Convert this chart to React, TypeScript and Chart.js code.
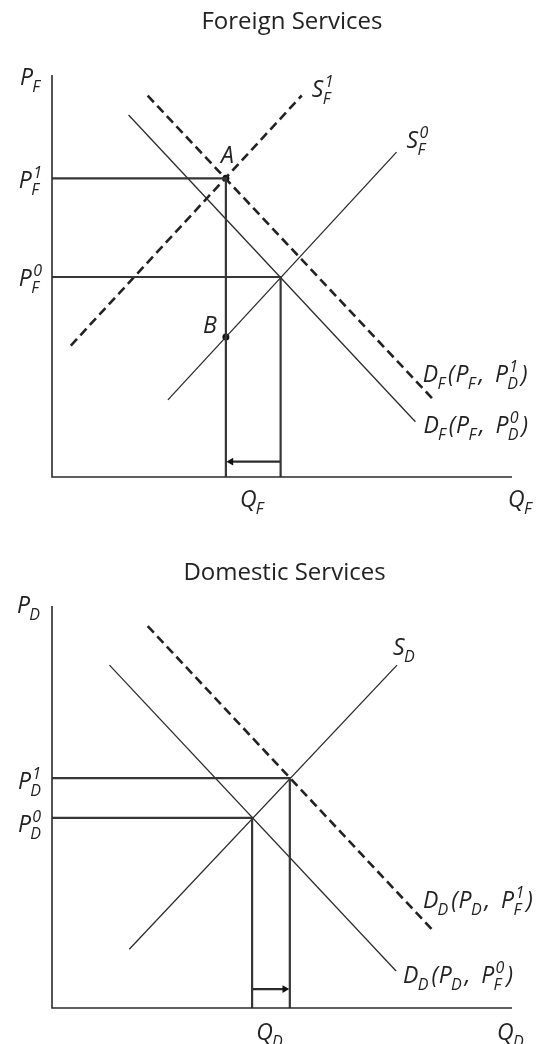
import React, { useEffect, useRef } from 'react';
import { Chart, registerables } from 'chart.js';
Chart.register(...registerables);

// ---------- Foreign services (top panel); both axes run 0..100 ----------
const foreignPrices = [74.3, 49.75]; // P_F^1 , P_F^0
const foreignQuantities = [37.8, 49.7]; // quantity at A (new), quantity at old equilibrium
const foreignPriceB = 34.8; // point B on S_F^0
const foreignS1 = [[4.1, 32.7], [54.3, 94.9]];
const foreignS0 = [[25.2, 19.2], [74.9, 80.8]];
const foreignD0 = [[16.65, 90.05], [79.0, 13.76]];
const foreignD1 = [[20.8, 94.85], [83.0, 19.15]];
const foreignArrowLevel = 3.8;

// ---------- Domestic services (bottom panel) ----------
const domesticPrices = [57.2, 47.3]; // P_D^1 , P_D^0
const domesticQuantities = [51.7, 43.5]; // new, old
const domesticS = [[16.8, 14.6], [75.0, 85.3]];
const domesticD0 = [[12.5, 85.3], [74.8, 9.2]];
const domesticD1 = [[20.8, 95.0], [82.8, 19.3]];
const domesticArrowLevel = 4.7;

const INK = '#222222';
const FONT = '"Open Sans", "Noto Sans", sans-serif';
const W = 541;
const H = 522;

type Tok = { t: string; sub?: string; sup?: string };
function parseMath(s: string): Tok[] {
  const out: Tok[] = [];
  for (let i = 0; i < s.length; i++) {
    const c = s[i];
    if (c === '_') out[out.length - 1].sub = s[++i];
    else if (c === '^') out[out.length - 1].sup = s[++i];
    else out.push({ t: c });
  }
  return out;
}
const MAIN = `italic 23px ${FONT}`;
const SMALL = `italic 16px ${FONT}`;
function tokWidth(ctx: CanvasRenderingContext2D, k: Tok) {
  ctx.font = MAIN;
  let w = k.t === ' ' ? 10 : ctx.measureText(k.t).width + 0.8;
  ctx.font = SMALL;
  const sw = Math.max(k.sub ? ctx.measureText(k.sub).width : 0, k.sup ? ctx.measureText(k.sup).width + 1 : 0);
  if (sw > 0) w += sw + 1.5;
  return w;
}
function drawMath(ctx: CanvasRenderingContext2D, s: string, x: number, y: number, align: 'left' | 'right' | 'center' = 'left') {
  const toks = parseMath(s);
  const w = toks.reduce((a, k) => a + tokWidth(ctx, k), 0);
  let cx = align === 'left' ? x : align === 'right' ? x - w : x - w / 2;
  ctx.save();
  ctx.fillStyle = INK;
  ctx.textAlign = 'left';
  ctx.textBaseline = 'alphabetic';
  for (const k of toks) {
    const tw = tokWidth(ctx, k);
    if (k.t !== ' ') {
      ctx.font = MAIN;
      ctx.fillText(k.t, cx, y);
      const mw = ctx.measureText(k.t).width + 0.8;
      ctx.font = SMALL;
      if (k.sub) ctx.fillText(k.sub, cx + mw - 1.5, y + 7);
      if (k.sup) ctx.fillText(k.sup, cx + mw + 0.5, y - 10);
    }
    cx += tw;
  }
  ctx.restore();
}

const pts = (a: number[][]) => a.map(([x, y]) => ({ x, y }));
const seg = (data: number[][], extra: any = {}) => ({
  type: 'line',
  data: pts(data),
  borderColor: '#2b2b2b',
  borderWidth: 1.3,
  pointRadius: 0,
  fill: false,
  tension: 0,
  clip: false,
  ...extra,
});
const DASH = { borderWidth: 2.6, borderDash: [9, 5], borderColor: '#222' };
const GUIDE = { borderWidth: 2.2, borderColor: '#363636' };

function baseOptions(padTop: number, padBottom: number) {
  return {
    responsive: false,
    animation: false,
    events: [],
    layout: { padding: { left: 52, right: W - 512, top: padTop, bottom: padBottom } },
    scales: {
      x: { type: 'linear', min: 0, max: 100, display: false },
      y: { type: 'linear', min: 0, max: 100, display: false },
    },
    plugins: { legend: { display: false }, tooltip: { enabled: false }, title: { display: false } },
  };
}

function foreignConfig(): any {
  const [p1, p0] = foreignPrices;
  const [q1, q0] = foreignQuantities;
  const labels = {
    id: 'foreignLabels',
    afterDatasetsDraw(chart: any) {
      const ctx = chart.ctx;
      const X = (v: number) => chart.scales.x.getPixelForValue(v);
      const Y = (v: number) => chart.scales.y.getPixelForValue(v);
      ctx.save();
      ctx.fillStyle = INK;
      ctx.font = `24px ${FONT}`;
      ctx.textAlign = 'center';
      ctx.fillText('Foreign Services', 292, 29);
      ctx.restore();
      drawMath(ctx, 'P_F', X(0) - 9, Y(100) + 10, 'right');
      drawMath(ctx, 'P_F^1', X(0) - 8, Y(p1) + 10, 'right');
      drawMath(ctx, 'P_F^0', X(0) - 8, Y(p0) + 9, 'right');
      drawMath(ctx, 'A', X(q1) - 5, Y(p1) - 15);
      drawMath(ctx, 'B', X(q1) - 23, Y(foreignPriceB) - 4);
      drawMath(ctx, 'S_F^1', X(foreignS1[1][0]) + 10, Y(foreignS1[1][1]) + 1);
      drawMath(ctx, 'S_F^0', X(foreignS0[1][0]) + 10, Y(foreignS0[1][1]) - 4);
      drawMath(ctx, 'D_F(P_F, P_D^1)', X(foreignD1[1][0]) - 11, Y(foreignD1[1][1]) - 18);
      drawMath(ctx, 'D_F(P_F, P_D^0)', X(foreignD0[1][0]) + 8, Y(foreignD0[1][1]) + 11);
      drawMath(ctx, 'Q_F', (X(q1) + X(q0)) / 2, Y(0) + 30, 'center');
      drawMath(ctx, 'Q_F', X(100) - 4, Y(0) + 30);
    },
  };
  return {
    type: 'line',
    data: {
      datasets: [
        seg([[0, 100], [0, 0], [100, 0]], { borderWidth: 1.6 }),
        seg([[0, p1], [q1, p1], [q1, 0]], GUIDE),
        seg([[0, p0], [q0, p0], [q0, 0]], GUIDE),
        seg(foreignS0),
        seg(foreignD0),
        seg(foreignS1, DASH),
        seg(foreignD1, DASH),
        seg([[q0, foreignArrowLevel], [q1 + 1.1, foreignArrowLevel]], {
          borderWidth: 2.2,
          pointRadius: [0, 4.5],
          pointStyle: 'triangle',
          pointRotation: -90,
          pointBackgroundColor: '#111',
          pointBorderColor: '#111',
          pointBorderWidth: 0,
        }),
        {
          type: 'line',
          data: pts([[q1, p1], [q1, foreignPriceB]]),
          showLine: false,
          pointRadius: 3.5,
          pointBackgroundColor: '#111',
          pointBorderWidth: 0,
          clip: false,
        },
      ],
    },
    options: baseOptions(75, H - 477),
    plugins: [labels],
  };
}

function domesticConfig(): any {
  const [p1, p0] = domesticPrices;
  const [q1, q0] = domesticQuantities;
  const labels = {
    id: 'domesticLabels',
    afterDatasetsDraw(chart: any) {
      const ctx = chart.ctx;
      const X = (v: number) => chart.scales.x.getPixelForValue(v);
      const Y = (v: number) => chart.scales.y.getPixelForValue(v);
      ctx.save();
      ctx.fillStyle = INK;
      ctx.font = `24px ${FONT}`;
      ctx.textAlign = 'center';
      ctx.fillText('Domestic Services', 284.5, 58);
      ctx.restore();
      drawMath(ctx, 'P_D', X(0) - 9, Y(100) + 7, 'right');
      drawMath(ctx, 'P_D^1', X(0) - 8, Y(p1) + 11, 'right');
      drawMath(ctx, 'P_D^0', X(0) - 8, Y(p0) + 14, 'right');
      drawMath(ctx, 'S_D', X(domesticS[1][0]) - 4, Y(domesticS[1][1]) - 10);
      drawMath(ctx, 'D_D(P_D, P_F^1)', X(domesticD1[1][0]) - 10, Y(domesticD1[1][1]) - 22);
      drawMath(ctx, 'D_D(P_D, P_F^0)', X(domesticD0[1][0]) + 7, Y(domesticD0[1][1]) + 12);
      drawMath(ctx, 'Q_D', (X(q1) + X(q0)) / 2, Y(0) + 32, 'center');
      drawMath(ctx, 'Q_D', X(100) - 15, Y(0) + 32);
    },
  };
  return {
    type: 'line',
    data: {
      datasets: [
        seg([[0, 100], [0, 0], [100, 0]], { borderWidth: 1.6 }),
        seg([[0, p1], [q1, p1], [q1, 0]], GUIDE),
        seg([[0, p0], [q0, p0], [q0, 0]], GUIDE),
        seg(domesticS),
        seg(domesticD0),
        seg(domesticD1, DASH),
        seg([[q0, domesticArrowLevel], [q1 - 1.1, domesticArrowLevel]], {
          borderWidth: 2.2,
          pointRadius: [0, 4.5],
          pointStyle: 'triangle',
          pointRotation: 90,
          pointBackgroundColor: '#111',
          pointBorderColor: '#111',
          pointBorderWidth: 0,
        }),
      ],
    },
    options: baseOptions(84, H - 486),
    plugins: [labels],
  };
}

function Panel({ make }: { make: () => any }) {
  const ref = useRef<HTMLCanvasElement | null>(null);
  useEffect(() => {
    if (!ref.current) return;
    const chart = new Chart(ref.current, make());
    return () => chart.destroy();
  }, [make]);
  return <canvas ref={ref} width={W} height={H} style={{ display: 'block', width: W, height: H }} />;
}

export default function App() {
  return (
    <div style={{ position: 'absolute', left: 0, top: 0, width: W, height: 1044, background: '#fff', overflow: 'hidden' }}>
      <Panel make={foreignConfig} />
      <Panel make={domesticConfig} />
    </div>
  );
}
